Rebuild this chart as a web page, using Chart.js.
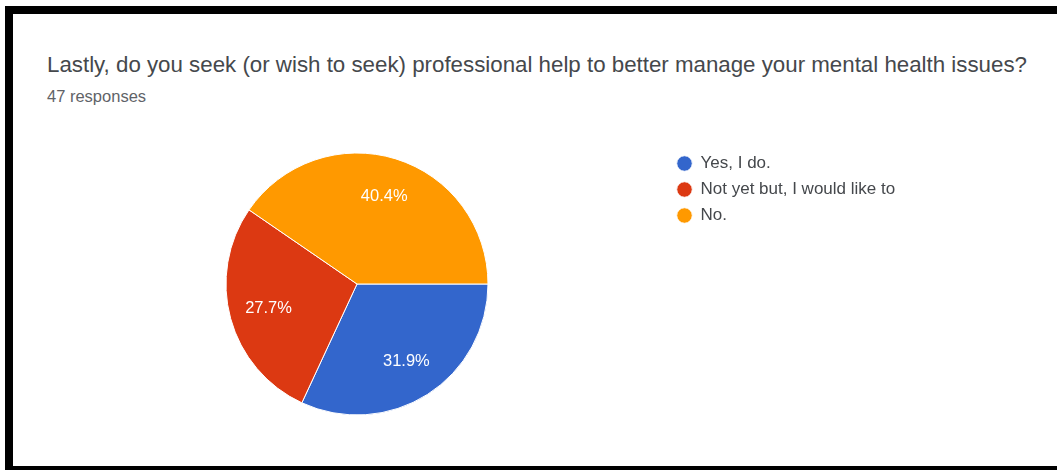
<!DOCTYPE html>
<html>
<head>
<meta charset="utf-8">
<script src="https://cdn.jsdelivr.net/npm/chart.js@4"></script>
<style>
  html, body { margin: 0; padding: 0; background: #fff; overflow: hidden; width: 100%; height: 100%; }
  body { position: relative; font-family: "Liberation Sans", Arial, sans-serif; }
  .frame {
    position: absolute; left: 5px; top: 6px; right: -20px;
    height: 452px;
    border-left: 8px solid #000; border-top: 8px solid #000; border-bottom: 8px solid #000;
  }
  .title {
    position: absolute; left: 47px; top: 52px;
    font-size: 22.3px; line-height: 25px; color: #45484c; white-space: nowrap;
  }
  .sub {
    position: absolute; left: 47px; top: 87px;
    font-size: 16.5px; line-height: 19px; color: #5f6368; white-space: nowrap;
  }
  #pie { position: absolute; left: 0; top: 0; }
</style>
</head>
<body>
<div class="frame"></div>
<div class="title">Lastly, do you seek (or wish to seek) professional help to better manage your mental health issues?</div>
<div class="sub">47 responses</div>
<canvas id="pie" width="1057" height="470"></canvas>
<script>
// answers and how many picked each
const answers = ["Yes, I do.", "Not yet but, I would like to", "No."];
const counts = [15, 13, 19];
const colors = ["#3366cc", "#dc3912", "#ff9900"];

const fontFamily = "'Liberation Sans', Arial, sans-serif";
const legendFont = 17;
const legendPad = 9;

// legend width so the legend starts at a fixed x
const m = document.createElement("canvas").getContext("2d");
m.font = legendFont + "px " + fontFamily;
const widest = Math.max(...answers.map((a) => m.measureText(a).width));
const legendW = legendPad + 15 + legendFont / 2 + widest + 10;
const legendLeft = 668;
const cx = 357;

// percent labels inside the slices
const sliceLabels = {
  id: "sliceLabels",
  afterDatasetsDraw(chart) {
    const c = chart.ctx;
    const total = counts.reduce((a, b) => a + b, 0);
    const arcs = chart.getDatasetMeta(0).data;
    c.save();
    c.fillStyle = "#fff";
    c.font = "16.5px " + fontFamily;
    c.textAlign = "center";
    c.textBaseline = "middle";
    arcs.forEach((arc, i) => {
      const mid = (arc.startAngle + arc.endAngle) / 2;
      const r = arc.outerRadius * 0.7;
      const x = arc.x + Math.cos(mid) * r;
      const y = arc.y + Math.sin(mid) * r;
      c.fillText(((counts[i] / total) * 100).toFixed(1) + "%", x, y);
    });
    c.restore();
  },
};

new Chart(document.getElementById("pie"), {
  type: "pie",
  data: {
    labels: answers,
    datasets: [
      {
        data: counts,
        backgroundColor: colors,
        borderColor: "#fff",
        borderWidth: 1,
        hoverOffset: 0,
        radius: 131,
      },
    ],
  },
  options: {
    responsive: false,
    animation: false,
    rotation: 90,
    layout: {
      padding: {
        top: 146,
        bottom: 470 - 146 - 2 * (284 - 146),
        left: 2 * cx - legendLeft,
        right: 1057 - legendLeft - legendW,
      },
    },
    plugins: {
      tooltip: { enabled: false },
      legend: {
        position: "right",
        align: "start",
        labels: {
          usePointStyle: true,
          pointStyle: "circle",
          boxWidth: 15,
          boxHeight: 11,
          padding: legendPad,
          color: "#45484c",
          font: { family: fontFamily, size: legendFont },
        },
      },
    },
  },
  plugins: [sliceLabels],
});
</script>
</body>
</html>
